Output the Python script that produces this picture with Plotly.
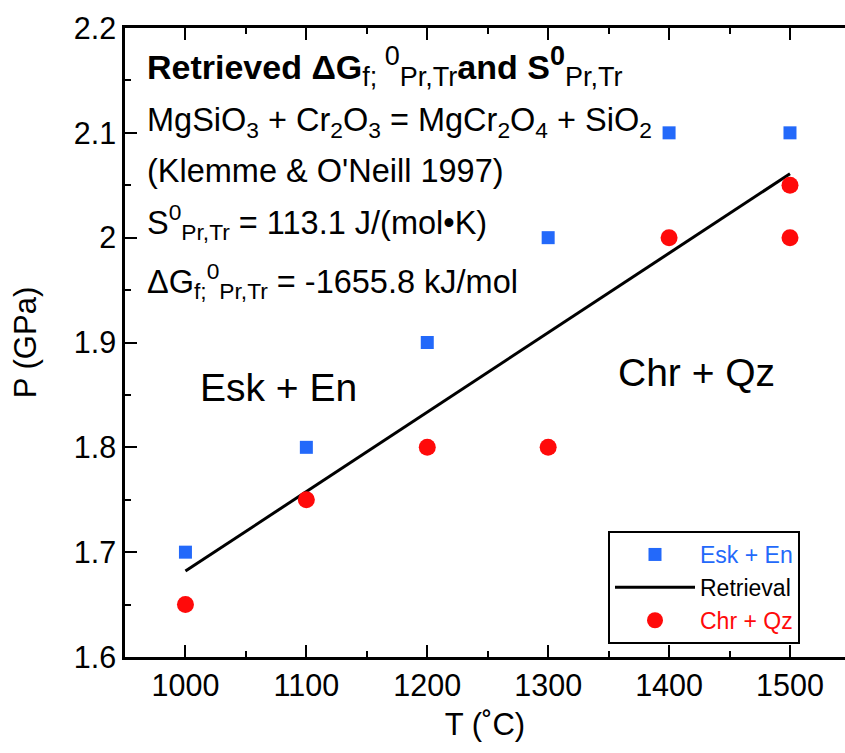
import plotly.graph_objects as go

# ---- data ----
esk_T = [1000, 1100, 1200, 1300, 1400, 1500]
esk_P = [1.70, 1.80, 1.90, 2.00, 2.10, 2.10]

chr_T = [1000, 1100, 1200, 1300, 1400, 1500, 1500]
chr_P = [1.65, 1.75, 1.80, 1.80, 2.00, 2.05, 2.00]

ret_T = [1000, 1500]
ret_P = [1.682, 2.061]

x_ticks = [1000, 1100, 1200, 1300, 1400, 1500]
y_ticks = [1.6, 1.7, 1.8, 1.9, 2.0, 2.1, 2.2]
y_ticklabels = ["1.6", "1.7", "1.8", "1.9", "2", "2.1", "2.2"]

BLUE = "#2369fa"
RED = "#ff0a0a"
FONT = "Liberation Sans, Arial, Helvetica, sans-serif"

W, H = 845, 753
ML, MR, MT, MB = 125, 0, 28, 96
PW, PH = W - ML - MR, H - MT - MB


def px(x):
    return (x - ML) / PW


def py(y):
    return (H - MB - y) / PH


fig = go.Figure()
fig.add_trace(go.Scatter(
    x=esk_T, y=esk_P, mode="markers",
    name=f"<span style='color:{BLUE}'>Esk + En</span>",
    marker=dict(symbol="square", size=13, color=BLUE),
))
fig.add_trace(go.Scatter(
    x=ret_T, y=ret_P, mode="lines", name="Retrieval",
    line=dict(color="black", width=3),
))
fig.add_trace(go.Scatter(
    x=chr_T, y=chr_P, mode="markers",
    name=f"<span style='color:{RED}'>Chr + Qz</span>",
    marker=dict(symbol="circle", size=17, color=RED),
))


def s(t):
    return f"<span style='font-size:27px'>{t}</span>"


title_txt = ("<b>Retrieved ΔG</b><sub>" + s("f; ") + "</sub><sup>" + s("0") + "</sup><sub>"
             + s("Pr,Tr") + "</sub><b>and S<sup>" + s("0") + "</sup></b><sub>" + s("Pr,Tr") + "</sub>")

lines = [
    (title_txt, 66, 34),
    ("MgSiO<sub>3</sub> + Cr<sub>2</sub>O<sub>3</sub> = MgCr<sub>2</sub>O<sub>4</sub> + SiO<sub>2</sub>", 123, 32.5),
    ("(Klemme &amp; O'Neill 1997)", 171, 32.5),
    ("S<sup>0</sup><sub>Pr,Tr</sub> = 113.1 J/(mol•K)", 222, 32.5),
    ("ΔG<sub>f;</sub><sup>0</sup><sub>Pr,Tr</sub> = -1655.8 kJ/mol", 281, 32.5),
]
annotations = []
for txt, yc, fs in lines:
    annotations.append(dict(
        text=txt, x=px(145), y=py(yc), xref="paper", yref="paper",
        xanchor="left", yanchor="middle", showarrow=False,
        font=dict(family=FONT, size=fs, color="black"),
    ))
annotations.append(dict(text="Esk + En", x=px(278), y=py(387), xref="paper", yref="paper",
                        xanchor="center", yanchor="middle", showarrow=False,
                        font=dict(family=FONT, size=39, color="black")))
annotations.append(dict(text="Chr + Qz", x=px(696), y=py(372), xref="paper", yref="paper",
                        xanchor="center", yanchor="middle", showarrow=False,
                        font=dict(family=FONT, size=39, color="black")))

fig.update_layout(
    width=W, height=H,
    margin=dict(l=ML, r=MR, t=MT, b=MB),
    paper_bgcolor="white", plot_bgcolor="white",
    font=dict(family=FONT, size=30, color="black"),
    showlegend=True,
    legend=dict(
        x=px(608), y=py(531), xanchor="left", yanchor="top",
        bordercolor="black", borderwidth=2, bgcolor="white",
        font=dict(family=FONT, size=23, color="black"),
        itemwidth=80, tracegroupgap=0,
    ),
    annotations=annotations,
    xaxis=dict(
        range=[950, 1545.5], tickvals=x_ticks, ticks="inside", ticklen=12, tickwidth=2,
        tickcolor="black", showline=True, linecolor="black", linewidth=2.5, mirror="ticks",
        showgrid=False, zeroline=False,
        minor=dict(dtick=50, tick0=950, ticks="inside", ticklen=6, tickwidth=2, tickcolor="black"),
        title=dict(text="T (˚C)", font=dict(size=31), standoff=12),
        tickfont=dict(size=30.5),
    ),
    yaxis=dict(
        range=[1.6, 2.2], tickvals=y_ticks, ticktext=y_ticklabels, ticks="inside", ticklen=12,
        tickwidth=2, tickcolor="black", showline=True, linecolor="black", linewidth=2.5,
        mirror=False, showgrid=False, zeroline=False,
        minor=dict(dtick=0.05, tick0=1.6, ticks="inside", ticklen=6, tickwidth=2, tickcolor="black"),
        title=dict(text="P (GPa)", font=dict(size=31), standoff=28),
        tickfont=dict(size=30.5),
    ),
    yaxis2=dict(
        overlaying="y", side="right", anchor="free", position=1, range=[1.6, 2.2],
        tickvals=y_ticks, ticks="inside", ticklen=7, tickwidth=2, tickcolor="black",
        showticklabels=False, showline=False, showgrid=False, zeroline=False,
        minor=dict(dtick=0.05, tick0=1.6, ticks="inside", ticklen=1.5, tickwidth=2, tickcolor="black"),
    ),
)

fig.write_html("out.html")
